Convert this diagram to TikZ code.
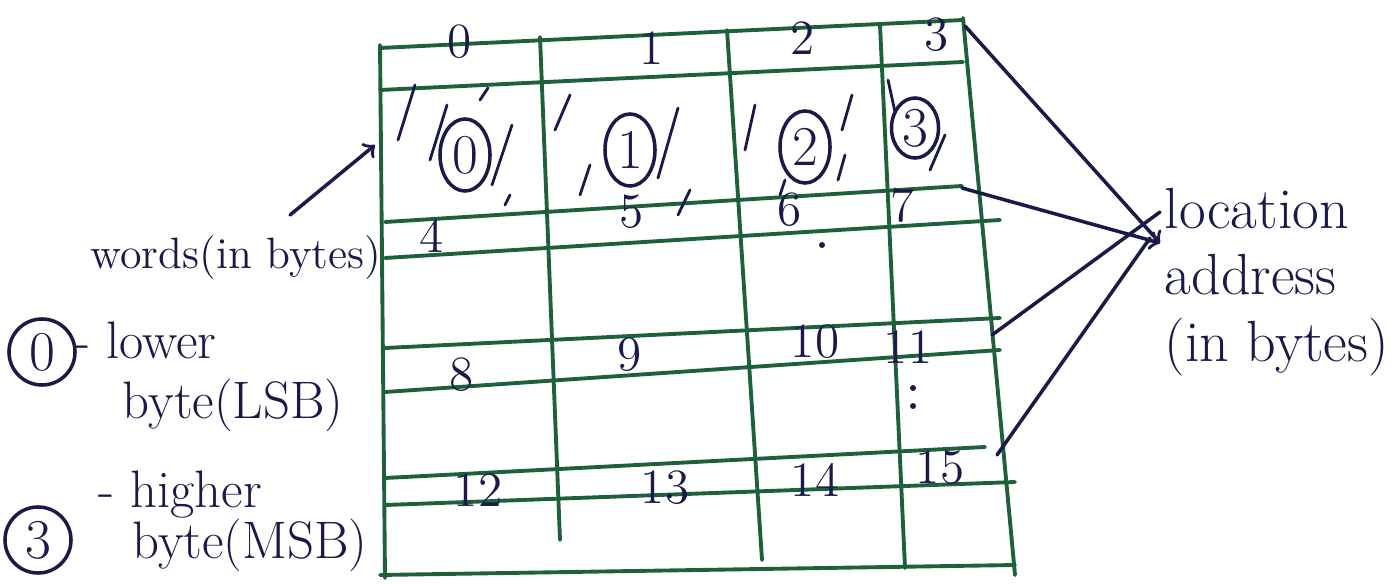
\documentclass[tikz,border=0pt]{standalone}
\usepackage{xcolor}
\usepackage{tikz}
\usetikzlibrary{shapes.geometric}
\definecolor{gridgreen}{RGB}{30,96,58}
\definecolor{inkblue}{RGB}{26,26,74}

\begin{document}
\begin{tikzpicture}[x=0.01cm,y=-0.01cm,
  rule/.style={gridgreen,line width=1.1pt,line cap=round},
  pen/.style={inkblue,line width=1pt,line cap=round},
  num/.style={text=inkblue,inner sep=0pt,font=\fontsize{14}{16}\selectfont},
  hand/.style={text=inkblue,inner sep=0pt,font=\fontsize{15}{17}\selectfont},
  ring/.style={draw=inkblue,line width=1pt,ellipse,inner sep=0pt,
    minimum width=0.5cm,minimum height=0.72cm,text=inkblue,font=\fontsize{16}{18}\selectfont}]
  \useasboundingbox (0,0) rectangle (1391,585);
  % memory grid
  \foreach \xa/\ya/\xb/\yb in {380/48/963/20, 380/90/963/62, 385/222/962/186,
      385/258/1000/220, 385/348/1000/318, 385/392/1000/350, 385/478/985/447,
      385/505/1015/482, 380/575/1015/565}
    \draw[rule] (\xa,\ya) -- (\xb,\yb);
  \foreach \xa/\ya/\xb/\yb in {380/45/385/578, 540/37/560/540, 727/30/762/560,
      880/25/905/568, 963/18/1015/575}
    \draw[rule] (\xa,\ya) -- (\xb,\yb);
  % byte addresses
  \foreach \n/\x/\y in {0/460/42, 1/652/48, 2/803/38, 3/937/35,
      4/432/236, 5/632/212, 6/790/210, 7/903/205,
      8/462/375, 9/630/355, 10/815/342, 11/908/347,
      12/478/490, 13/665/488, 14/815/480, 15/940/468}
    \node[num] (a\n) at (\x,\y) {\n};
  \node[ring] (c0) at (465,155) {0};
  \node[ring] (c1) at (630,150) {1};
  \node[ring] (c2) at (805,147) {2};
  \node[ring,minimum width=0.47cm,minimum height=0.6cm] (c3) at (915,128) {3};
  % hatching in the first word
  \foreach \xa/\ya/\xb/\yb in {398/140/415/85, 430/160/447/105, 480/100/488/88,
      492/185/512/125, 505/205/510/195, 555/130/570/95, 580/195/590/165,
      658/178/678/108, 678/215/690/190, 745/150/755/105, 780/195/785/180,
      838/180/845/155, 842/130/852/95, 888/80/895/112, 930/170/945/135}
    \draw[pen,line width=0.8pt] (\xa,\ya) -- (\xb,\yb);
  \foreach \p in {(822,245), (913,388), (913,406)}
    \fill[inkblue] \p circle (3);
  % left legend
  \node[hand,font=\fontsize{12.5}{14}\selectfont] (words) at (236,258) {words(in bytes)};
  \coordinate (wtail) at (290,215);
  \coordinate (whead) at (375,145);
  \draw[pen,->] (wtail) -- (whead);
  \node[ring,circle,minimum size=0.66cm] (leg0) at (42,352) {0};
  \node[hand,anchor=west] (low) at (74,340) {- lower};
  \node[hand] (lsb) at (233,405) {byte(LSB)};
  \node[ring,circle,minimum size=0.66cm] (leg3) at (38,540) {3};
  \node[hand,anchor=west] (high) at (98,495) {- higher};
  \node[hand] (msb) at (250,545) {byte(MSB)};
  % right label and pointers
  \node[hand,font=\fontsize{16.5}{19}\selectfont,align=left,anchor=west] (addr) at (1164,282)
    {location\\address\\(in bytes)};
  \coordinate (g3) at (965,26);
  \coordinate (g7) at (962,188);
  \coordinate (g11) at (992,335);
  \coordinate (g15) at (997,455);
  \coordinate (conv) at (1160,243);
  \coordinate (up) at (1160,212);
  \coordinate (low15) at (1150,238);
  \draw[pen,->] (g3) -- (conv);
  \draw[pen,->] (g7) -- (conv);
  \draw[pen] (g11) -- (up);
  \draw[pen] (g15) -- (low15);
\end{tikzpicture}
\end{document}
